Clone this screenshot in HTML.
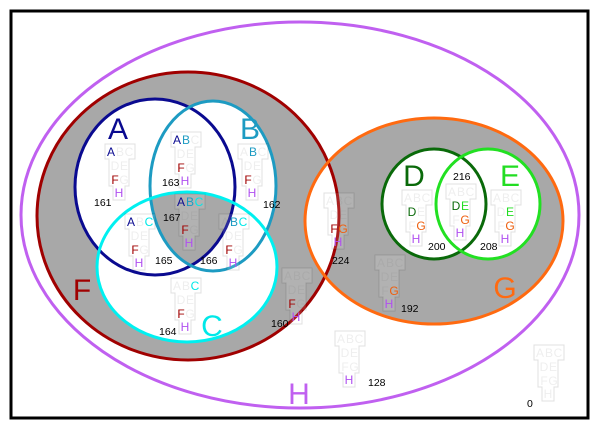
<!DOCTYPE html>
<html><head><meta charset="utf-8"><style>
html,body{margin:0;padding:0;background:#fff}
svg{display:block}
.l{font-family:"Liberation Sans Narrow","Liberation Sans",sans-serif;font-size:12px;text-anchor:middle}
.n{font-family:"Liberation Sans",sans-serif;font-size:10.5px;fill:#000}
.big{font-family:"Liberation Sans",sans-serif;font-size:30px;text-anchor:middle}
.x{fill:#777;fill-opacity:0.12}
</style></head><body>
<svg width="600" height="431" viewBox="0 0 600 431" xmlns="http://www.w3.org/2000/svg">
<defs>
<clipPath id="cF"><ellipse cx="188" cy="216" rx="151" ry="144"/></clipPath>
<clipPath id="cA"><ellipse cx="155" cy="187" rx="80" ry="88"/></clipPath>
<clipPath id="cB"><ellipse cx="213" cy="186" rx="63" ry="85"/></clipPath>
<polygon id="t" points="-6,-8 24,-8 24,7 18,7 18,34 14,34 14,48 2,48 2,34 -2,34 -2,7 -6,7" fill="#fff" fill-opacity="0.12" stroke="#000" stroke-opacity="0.12" stroke-width="1"/>
</defs>
<rect x="11" y="11" width="577" height="407" fill="#fff" stroke="#000" stroke-width="3"/>
<ellipse cx="188" cy="216" rx="151" ry="144" fill="#a8a8a8"/>
<ellipse cx="434" cy="221" rx="129" ry="103" fill="#a8a8a8"/>
<ellipse cx="434" cy="221" rx="129" ry="103" fill="#fff" clip-path="url(#cF)"/>
<ellipse cx="155" cy="187" rx="80" ry="88" fill="#fff"/>
<ellipse cx="213" cy="186" rx="63" ry="85" fill="#fff"/>
<ellipse cx="187" cy="267" rx="90" ry="75" fill="#fff"/>
<g clip-path="url(#cA)"><g clip-path="url(#cB)"><ellipse cx="187" cy="267" rx="90" ry="75" fill="#a8a8a8"/></g></g>
<ellipse cx="434" cy="204" rx="52" ry="55" fill="#fff"/>
<ellipse cx="488" cy="204" rx="52" ry="55" fill="#fff"/>
<g fill="none" stroke-width="3">
<ellipse cx="300" cy="215" rx="279" ry="193" stroke="#c060f0"/>
<ellipse cx="188" cy="216" rx="151" ry="144" stroke="#a00000"/>
<ellipse cx="434" cy="221" rx="129" ry="103" stroke="#ff6a10"/>
<ellipse cx="155" cy="187" rx="80" ry="88" stroke="#0a0a90"/>
<ellipse cx="213" cy="186" rx="63" ry="85" stroke="#1d9bc2"/>
<ellipse cx="187" cy="267" rx="90" ry="75" stroke="#00f0f0"/>
<ellipse cx="434" cy="204" rx="52" ry="55" stroke="#0a6a0a"/>
<ellipse cx="488" cy="204" rx="52" ry="55" stroke="#22e022"/>
</g>
<text class="big" x="118" y="139" fill="#0a0a90">A</text>
<text class="big" x="250" y="139" fill="#1d9bc2">B</text>
<text class="big" x="212" y="336" fill="#00e8e8">C</text>
<text class="big" x="414" y="186" fill="#0a6a0a">D</text>
<text class="big" x="510" y="186" fill="#22dd22">E</text>
<text class="big" x="82" y="300" fill="#a00000">F</text>
<text class="big" x="505" y="298" fill="#ff6a10">G</text>
<text class="big" x="299" y="404" fill="#c060f0">H</text>

<g transform="translate(111,152)"><use href="#t"/><text class="l" y="4"><tspan x="0" fill="#0a0a90">A</tspan><tspan x="9" class="x">B</tspan><tspan x="18" class="x">C</tspan></text><text class="l" y="18"><tspan x="4" class="x">D</tspan><tspan x="13" class="x">E</tspan></text><text class="l" y="32"><tspan x="4" fill="#a00000">F</tspan><tspan x="13" class="x">G</tspan></text><text class="l" y="45"><tspan x="8" fill="#b050f0">H</tspan></text></g>
<text class="n" x="94" y="206">161</text>

<g transform="translate(177,140)"><use href="#t"/><text class="l" y="4"><tspan x="0" fill="#0a0a90">A</tspan><tspan x="9" fill="#1d9bc2">B</tspan><tspan x="18" class="x">C</tspan></text><text class="l" y="18"><tspan x="4" class="x">D</tspan><tspan x="13" class="x">E</tspan></text><text class="l" y="32"><tspan x="4" fill="#a00000">F</tspan><tspan x="13" class="x">G</tspan></text><text class="l" y="45"><tspan x="8" fill="#b050f0">H</tspan></text></g>
<text class="n" x="162" y="186">163</text>

<g transform="translate(244,152)"><use href="#t"/><text class="l" y="4"><tspan x="0" class="x">A</tspan><tspan x="9" fill="#1d9bc2">B</tspan><tspan x="18" class="x">C</tspan></text><text class="l" y="18"><tspan x="4" class="x">D</tspan><tspan x="13" class="x">E</tspan></text><text class="l" y="32"><tspan x="4" fill="#a00000">F</tspan><tspan x="13" class="x">G</tspan></text><text class="l" y="45"><tspan x="8" fill="#b050f0">H</tspan></text></g>
<text class="n" x="263" y="208">162</text>

<g transform="translate(181,202)"><use href="#t"/><text class="l" y="4"><tspan x="0" fill="#0a0a90">A</tspan><tspan x="9" fill="#1d9bc2">B</tspan><tspan x="18" fill="#00e8e8">C</tspan></text><text class="l" y="18"><tspan x="4" class="x">D</tspan><tspan x="13" class="x">E</tspan></text><text class="l" y="32"><tspan x="4" fill="#a00000">F</tspan><tspan x="13" class="x">G</tspan></text><text class="l" y="45"><tspan x="8" fill="#b050f0">H</tspan></text></g>
<text class="n" x="163" y="221">167</text>

<g transform="translate(131,222)"><use href="#t"/><text class="l" y="4"><tspan x="0" fill="#0a0a90">A</tspan><tspan x="9" class="x">B</tspan><tspan x="18" fill="#00e8e8">C</tspan></text><text class="l" y="18"><tspan x="4" class="x">D</tspan><tspan x="13" class="x">E</tspan></text><text class="l" y="32"><tspan x="4" fill="#a00000">F</tspan><tspan x="13" class="x">G</tspan></text><text class="l" y="45"><tspan x="8" fill="#b050f0">H</tspan></text></g>
<text class="n" x="155" y="264">165</text>

<g transform="translate(225,222)"><use href="#t"/><text class="l" y="4"><tspan x="0" class="x">A</tspan><tspan x="9" fill="#1d9bc2">B</tspan><tspan x="18" fill="#00e8e8">C</tspan></text><text class="l" y="18"><tspan x="4" class="x">D</tspan><tspan x="13" class="x">E</tspan></text><text class="l" y="32"><tspan x="4" fill="#a00000">F</tspan><tspan x="13" class="x">G</tspan></text><text class="l" y="45"><tspan x="8" fill="#b050f0">H</tspan></text></g>
<text class="n" x="200" y="264">166</text>

<g transform="translate(177,286)"><use href="#t"/><text class="l" y="4"><tspan x="0" class="x">A</tspan><tspan x="9" class="x">B</tspan><tspan x="18" fill="#00e8e8">C</tspan></text><text class="l" y="18"><tspan x="4" class="x">D</tspan><tspan x="13" class="x">E</tspan></text><text class="l" y="32"><tspan x="4" fill="#a00000">F</tspan><tspan x="13" class="x">G</tspan></text><text class="l" y="45"><tspan x="8" fill="#b050f0">H</tspan></text></g>
<text class="n" x="159" y="335">164</text>

<g transform="translate(288,276)"><use href="#t"/><text class="l" y="4"><tspan x="0" class="x">A</tspan><tspan x="9" class="x">B</tspan><tspan x="18" class="x">C</tspan></text><text class="l" y="18"><tspan x="4" class="x">D</tspan><tspan x="13" class="x">E</tspan></text><text class="l" y="32"><tspan x="4" fill="#a00000">F</tspan><tspan x="13" class="x">G</tspan></text><text class="l" y="45"><tspan x="8" fill="#b050f0">H</tspan></text></g>
<text class="n" x="271" y="327">160</text>

<g transform="translate(330,201)"><use href="#t"/><text class="l" y="4"><tspan x="0" class="x">A</tspan><tspan x="9" class="x">B</tspan><tspan x="18" class="x">C</tspan></text><text class="l" y="18"><tspan x="4" class="x">D</tspan><tspan x="13" class="x">E</tspan></text><text class="l" y="32"><tspan x="4" fill="#a00000">F</tspan><tspan x="13" fill="#ee6010">G</tspan></text><text class="l" y="45"><tspan x="8" fill="#b050f0">H</tspan></text></g>
<text class="n" x="332" y="264">224</text>

<g transform="translate(381,263)"><use href="#t"/><text class="l" y="4"><tspan x="0" class="x">A</tspan><tspan x="9" class="x">B</tspan><tspan x="18" class="x">C</tspan></text><text class="l" y="18"><tspan x="4" class="x">D</tspan><tspan x="13" class="x">E</tspan></text><text class="l" y="32"><tspan x="4" class="x">F</tspan><tspan x="13" fill="#ee6010">G</tspan></text><text class="l" y="45"><tspan x="8" fill="#b050f0">H</tspan></text></g>
<text class="n" x="401" y="312">192</text>

<g transform="translate(408,198)"><use href="#t"/><text class="l" y="4"><tspan x="0" class="x">A</tspan><tspan x="9" class="x">B</tspan><tspan x="18" class="x">C</tspan></text><text class="l" y="18"><tspan x="4" fill="#0a6a0a">D</tspan><tspan x="13" class="x">E</tspan></text><text class="l" y="32"><tspan x="4" class="x">F</tspan><tspan x="13" fill="#ee6010">G</tspan></text><text class="l" y="45"><tspan x="8" fill="#b050f0">H</tspan></text></g>
<text class="n" x="428" y="250">200</text>

<g transform="translate(452,192)"><use href="#t"/><text class="l" y="4"><tspan x="0" class="x">A</tspan><tspan x="9" class="x">B</tspan><tspan x="18" class="x">C</tspan></text><text class="l" y="18"><tspan x="4" fill="#0a6a0a">D</tspan><tspan x="13" fill="#22dd22">E</tspan></text><text class="l" y="32"><tspan x="4" class="x">F</tspan><tspan x="13" fill="#ee6010">G</tspan></text><text class="l" y="45"><tspan x="8" fill="#b050f0">H</tspan></text></g>
<text class="n" x="453" y="180">216</text>

<g transform="translate(497,198)"><use href="#t"/><text class="l" y="4"><tspan x="0" class="x">A</tspan><tspan x="9" class="x">B</tspan><tspan x="18" class="x">C</tspan></text><text class="l" y="18"><tspan x="4" class="x">D</tspan><tspan x="13" fill="#22dd22">E</tspan></text><text class="l" y="32"><tspan x="4" class="x">F</tspan><tspan x="13" fill="#ee6010">G</tspan></text><text class="l" y="45"><tspan x="8" fill="#b050f0">H</tspan></text></g>
<text class="n" x="480" y="250">208</text>

<g transform="translate(341,339)"><use href="#t"/><text class="l" y="4"><tspan x="0" class="x">A</tspan><tspan x="9" class="x">B</tspan><tspan x="18" class="x">C</tspan></text><text class="l" y="18"><tspan x="4" class="x">D</tspan><tspan x="13" class="x">E</tspan></text><text class="l" y="32"><tspan x="4" class="x">F</tspan><tspan x="13" class="x">G</tspan></text><text class="l" y="45"><tspan x="8" fill="#b050f0">H</tspan></text></g>
<text class="n" x="368" y="386">128</text>

<g transform="translate(540,353)"><use href="#t"/><text class="l" y="4"><tspan x="0" class="x">A</tspan><tspan x="9" class="x">B</tspan><tspan x="18" class="x">C</tspan></text><text class="l" y="18"><tspan x="4" class="x">D</tspan><tspan x="13" class="x">E</tspan></text><text class="l" y="32"><tspan x="4" class="x">F</tspan><tspan x="13" class="x">G</tspan></text><text class="l" y="45"><tspan x="8" class="x">H</tspan></text></g>
<text class="n" x="527" y="407">0</text>
</svg>
</body></html>
